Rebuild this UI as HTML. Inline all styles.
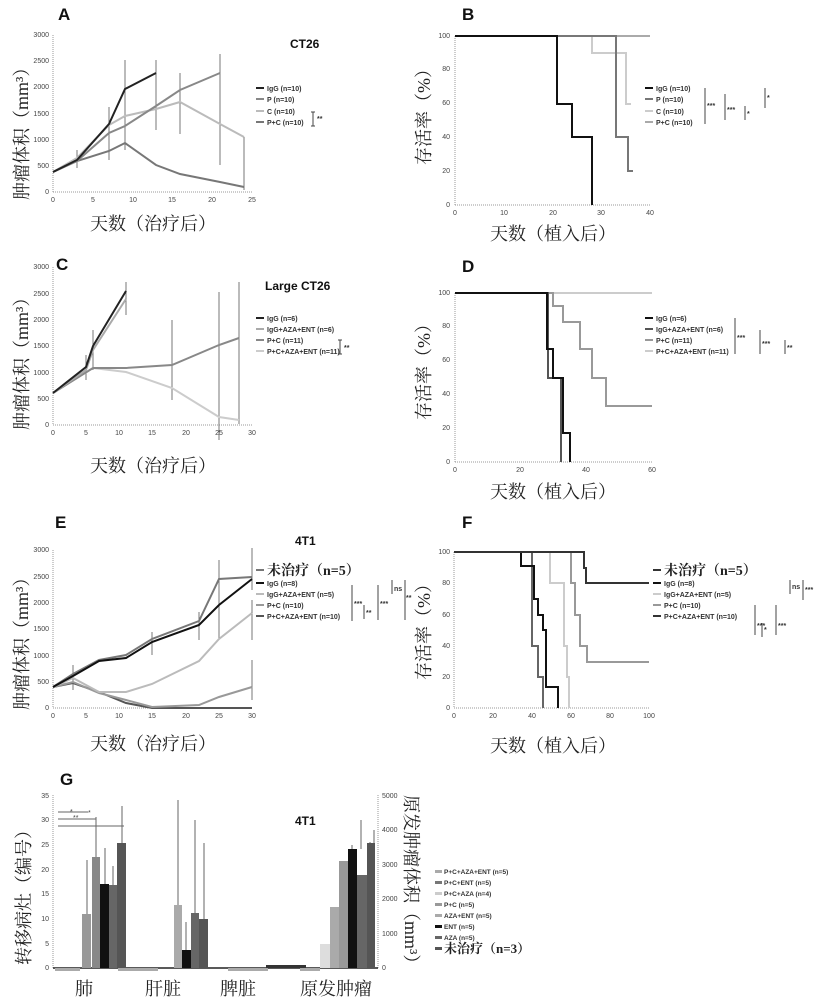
<!DOCTYPE html>
<html><head><meta charset="utf-8"><style>
html,body{margin:0;padding:0;background:#fff;}
svg{display:block;font-family:"Liberation Sans","Noto Sans CJK SC",sans-serif;}
.t{font-size:7px;fill:#444;}
.lg{font-size:7px;font-weight:bold;fill:#333;}
.pl{font-size:17px;font-weight:bold;fill:#111;}
.cn{font-family:"Liberation Serif","Noto Serif CJK SC",serif;font-size:18px;fill:#222;}
.ax{stroke:#999;stroke-width:1;fill:none;stroke-dasharray:1 1;}
.eb{stroke:#777;stroke-width:1;fill:none;}
</style></head><body>
<svg width="816" height="1000" viewBox="0 0 816 1000" xmlns="http://www.w3.org/2000/svg">
<!-- ===== Panel A ===== -->
<text x="58" y="20" class="pl">A</text>
<text x="290" y="48" class="pl" style="font-size:12px">CT26</text>
<line x1="53" y1="35" x2="53" y2="192" class="ax"/><line x1="53" y1="192" x2="252" y2="192" class="ax"/>
<g class="t" text-anchor="end"><text x="49" y="194">0</text><text x="49" y="168">500</text><text x="49" y="142">1000</text><text x="49" y="116">1500</text><text x="49" y="89">2000</text><text x="49" y="63">2500</text><text x="49" y="37">3000</text></g>
<g class="t" text-anchor="middle"><text x="53" y="202">0</text><text x="93" y="202">5</text><text x="133" y="202">10</text><text x="172" y="202">15</text><text x="212" y="202">20</text><text x="252" y="202">25</text></g>
<text class="cn" transform="translate(28,200) rotate(-90)">肿瘤体积（mm³）</text>
<text x="90" y="230" class="cn">天数（治疗后）</text>
<g class="eb"><line x1="125" y1="60" x2="125" y2="150"/><line x1="156" y1="60" x2="156" y2="130"/><line x1="180" y1="73" x2="180" y2="134"/><line x1="220" y1="54" x2="220" y2="165"/><line x1="244" y1="137" x2="244" y2="190"/><line x1="109" y1="107" x2="109" y2="160"/><line x1="77" y1="150" x2="77" y2="168"/></g>
<polyline points="53,172 77,161 109,151 125,143 156,165 180,174 220,182 244,187" fill="none" stroke="#777" stroke-width="2"/>
<polyline points="53,172 77,158 109,125 125,116 156,109 180,102 220,124 244,137" fill="none" stroke="#bbb" stroke-width="2"/>
<polyline points="53,172 77,161 109,133 125,126 156,106 180,90 220,73" fill="none" stroke="#888" stroke-width="2"/>
<polyline points="53,172 77,160 109,124 125,89 156,73" fill="none" stroke="#222" stroke-width="2"/>
<g class="lg"><line x1="256" y1="88" x2="264" y2="88" stroke="#222" stroke-width="2"/><text x="267" y="91">IgG (n=10)</text>
<line x1="256" y1="99" x2="264" y2="99" stroke="#888" stroke-width="2"/><text x="267" y="102">P (n=10)</text>
<line x1="256" y1="111" x2="264" y2="111" stroke="#bbb" stroke-width="2"/><text x="267" y="114">C (n=10)</text>
<line x1="256" y1="122" x2="264" y2="122" stroke="#777" stroke-width="2"/><text x="267" y="125">P+C (n=10)</text>
<path d="M313,112 v14 M311,112 h4 M311,126 h4" stroke="#444" fill="none"/><text x="317" y="121">**</text></g>
<!-- ===== Panel B ===== -->
<text x="462" y="20" class="pl">B</text>
<line x1="455" y1="36" x2="455" y2="205" class="ax"/><line x1="455" y1="205" x2="650" y2="205" class="ax"/>
<g class="t" text-anchor="end"><text x="450" y="207">0</text><text x="450" y="173">20</text><text x="450" y="139">40</text><text x="450" y="105">60</text><text x="450" y="71">80</text><text x="450" y="38">100</text></g>
<g class="t" text-anchor="middle"><text x="455" y="215">0</text><text x="504" y="215">10</text><text x="553" y="215">20</text><text x="601" y="215">30</text><text x="650" y="215">40</text></g>
<text class="cn" transform="translate(430,165) rotate(-90)">存活率（%）</text>
<text x="490" y="240" class="cn">天数（植入后）</text>
<polyline points="455,36 650,36" fill="none" stroke="#aaa" stroke-width="2"/>
<polyline points="455,36 592,36 592,53 626,53 626,104 631,104" fill="none" stroke="#ccc" stroke-width="2"/>
<polyline points="455,36 616,36 616,53 616,137 628,137 628,171 633,171" fill="none" stroke="#777" stroke-width="2"/>
<polyline points="455,36 557,36 557,104 572,104 572,137 592,137 592,205" fill="none" stroke="#111" stroke-width="2"/>
<g class="lg"><line x1="645" y1="88" x2="653" y2="88" stroke="#111" stroke-width="2"/><text x="656" y="91">IgG (n=10)</text>
<line x1="645" y1="99" x2="653" y2="99" stroke="#777" stroke-width="2"/><text x="656" y="102">P (n=10)</text>
<line x1="645" y1="111" x2="653" y2="111" stroke="#ccc" stroke-width="2"/><text x="656" y="114">C (n=10)</text>
<line x1="645" y1="122" x2="653" y2="122" stroke="#aaa" stroke-width="2"/><text x="656" y="125">P+C (n=10)</text>
<path d="M705,88 v36 M725,94 v26 M745,106 v14 M765,88 v20" stroke="#444" fill="none"/>
<text x="707" y="108">***</text><text x="727" y="112">***</text><text x="747" y="116">*</text><text x="767" y="100">*</text></g>
<!-- ===== Panel C ===== -->
<text x="56" y="270" class="pl">C</text>
<text x="265" y="290" class="pl" style="font-size:12px">Large CT26</text>
<line x1="53" y1="267" x2="53" y2="425" class="ax"/><line x1="53" y1="425" x2="252" y2="425" class="ax"/>
<g class="t" text-anchor="end"><text x="49" y="427">0</text><text x="49" y="401">500</text><text x="49" y="375">1000</text><text x="49" y="348">1500</text><text x="49" y="322">2000</text><text x="49" y="296">2500</text><text x="49" y="269">3000</text></g>
<g class="t" text-anchor="middle"><text x="53" y="435">0</text><text x="86" y="435">5</text><text x="119" y="435">10</text><text x="152" y="435">15</text><text x="186" y="435">20</text><text x="219" y="435">25</text><text x="252" y="435">30</text></g>
<text class="cn" transform="translate(28,430) rotate(-90)">肿瘤体积（mm³）</text>
<text x="90" y="472" class="cn">天数（治疗后）</text>
<g class="eb"><line x1="126" y1="282" x2="126" y2="315"/><line x1="93" y1="330" x2="93" y2="370"/><line x1="172" y1="320" x2="172" y2="400"/><line x1="219" y1="292" x2="219" y2="440"/><line x1="239" y1="282" x2="239" y2="424"/><line x1="86" y1="355" x2="86" y2="380"/></g>
<polyline points="53,393 93,368 126,372 172,388 219,417 239,420" fill="none" stroke="#ccc" stroke-width="2"/>
<polyline points="53,393 93,368 126,368 172,365 219,345 239,338" fill="none" stroke="#888" stroke-width="2"/>
<polyline points="53,393 86,370 93,350 126,299" fill="none" stroke="#aaa" stroke-width="2"/>
<polyline points="53,393 86,367 93,346 126,291" fill="none" stroke="#222" stroke-width="2"/>
<g class="lg"><line x1="256" y1="318" x2="264" y2="318" stroke="#222" stroke-width="2"/><text x="267" y="321">IgG (n=6)</text>
<line x1="256" y1="329" x2="264" y2="329" stroke="#aaa" stroke-width="2"/><text x="267" y="332">IgG+AZA+ENT (n=6)</text>
<line x1="256" y1="340" x2="264" y2="340" stroke="#888" stroke-width="2"/><text x="267" y="343">P+C (n=11)</text>
<line x1="256" y1="351" x2="264" y2="351" stroke="#ccc" stroke-width="2"/><text x="267" y="354">P+C+AZA+ENT (n=11)</text>
<path d="M340,340 v14 M338,340 h4 M338,354 h4" stroke="#444" fill="none"/><text x="344" y="350">**</text></g>
<!-- ===== Panel D ===== -->
<text x="462" y="272" class="pl">D</text>
<line x1="455" y1="293" x2="455" y2="462" class="ax"/><line x1="455" y1="462" x2="652" y2="462" class="ax"/>
<g class="t" text-anchor="end"><text x="450" y="464">0</text><text x="450" y="430">20</text><text x="450" y="396">40</text><text x="450" y="362">60</text><text x="450" y="328">80</text><text x="450" y="295">100</text></g>
<g class="t" text-anchor="middle"><text x="455" y="472">0</text><text x="520" y="472">20</text><text x="586" y="472">40</text><text x="652" y="472">60</text></g>
<text class="cn" transform="translate(430,420) rotate(-90)">存活率（%）</text>
<text x="490" y="498" class="cn">天数（植入后）</text>
<polyline points="455,293 652,293" fill="none" stroke="#ccc" stroke-width="2"/>
<polyline points="455,293 553,293 553,306 563,306 563,322 580,322 580,349 592,349 592,378 606,378 606,406 620,406 620,406 652,406" fill="none" stroke="#999" stroke-width="2"/>
<polyline points="455,293 548,293 548,378 561,378 561,462" fill="none" stroke="#555" stroke-width="2"/>
<polyline points="455,293 547,293 547,349 553,349 553,378 563,378 563,433 570,433 570,462" fill="none" stroke="#111" stroke-width="2"/>
<g class="lg"><line x1="645" y1="318" x2="653" y2="318" stroke="#111" stroke-width="2"/><text x="656" y="321">IgG (n=6)</text>
<line x1="645" y1="329" x2="653" y2="329" stroke="#555" stroke-width="2"/><text x="656" y="332">IgG+AZA+ENT (n=6)</text>
<line x1="645" y1="340" x2="653" y2="340" stroke="#999" stroke-width="2"/><text x="656" y="343">P+C (n=11)</text>
<line x1="645" y1="351" x2="653" y2="351" stroke="#ccc" stroke-width="2"/><text x="656" y="354">P+C+AZA+ENT (n=11)</text>
<path d="M735,318 v36 M760,330 v24 M785,340 v14" stroke="#444" fill="none"/>
<text x="737" y="340">***</text><text x="762" y="346">***</text><text x="787" y="350">**</text></g>
<!-- ===== Panel E ===== -->
<text x="55" y="528" class="pl">E</text>
<text x="295" y="545" class="pl" style="font-size:12px">4T1</text>
<line x1="53" y1="550" x2="53" y2="708" class="ax"/><line x1="53" y1="708" x2="252" y2="708" class="ax"/>
<g class="t" text-anchor="end"><text x="49" y="710">0</text><text x="49" y="684">500</text><text x="49" y="658">1000</text><text x="49" y="631">1500</text><text x="49" y="605">2000</text><text x="49" y="579">2500</text><text x="49" y="552">3000</text></g>
<g class="t" text-anchor="middle"><text x="53" y="718">0</text><text x="86" y="718">5</text><text x="119" y="718">10</text><text x="152" y="718">15</text><text x="186" y="718">20</text><text x="219" y="718">25</text><text x="252" y="718">30</text></g>
<text class="cn" transform="translate(28,710) rotate(-90)">肿瘤体积（mm³）</text>
<text x="90" y="750" class="cn">天数（治疗后）</text>
<g class="eb"><line x1="219" y1="560" x2="219" y2="640"/><line x1="252" y1="548" x2="252" y2="590"/><line x1="252" y1="600" x2="252" y2="640"/><line x1="252" y1="660" x2="252" y2="700"/><line x1="152" y1="632" x2="152" y2="655"/><line x1="199" y1="612" x2="199" y2="640"/><line x1="73" y1="665" x2="73" y2="690"/></g>
<polyline points="53,687 73,683 99,692 126,703 152,708 199,708 219,708 252,708" fill="none" stroke="#555" stroke-width="2"/>
<polyline points="53,687 73,682 99,693 126,700 152,707 199,705 219,697 252,687" fill="none" stroke="#999" stroke-width="2"/>
<polyline points="53,687 73,678 99,692 126,692 152,684 199,661 219,639 252,613" fill="none" stroke="#bbb" stroke-width="2"/>
<polyline points="53,687 73,674 99,660 126,655 152,639 199,621 219,579 252,577" fill="none" stroke="#777" stroke-width="2"/>
<polyline points="53,687 73,676 99,661 126,658 152,642 199,625 219,605 252,579" fill="none" stroke="#111" stroke-width="2"/>
<g class="lg"><line x1="256" y1="570" x2="264" y2="570" stroke="#777" stroke-width="2"/><text x="267" y="575" class="cn" style="font-size:14px">未治疗（n=5）</text>
<line x1="256" y1="583" x2="264" y2="583" stroke="#111" stroke-width="2"/><text x="267" y="586">IgG (n=8)</text>
<line x1="256" y1="594" x2="264" y2="594" stroke="#bbb" stroke-width="2"/><text x="267" y="597">IgG+AZA+ENT (n=5)</text>
<line x1="256" y1="605" x2="264" y2="605" stroke="#999" stroke-width="2"/><text x="267" y="608">P+C (n=10)</text>
<line x1="256" y1="616" x2="264" y2="616" stroke="#555" stroke-width="2"/><text x="267" y="619">P+C+AZA+ENT (n=10)</text>
<path d="M352,585 v36 M364,605 v14 M378,585 v35 M392,580 v14 M405,580 v40" stroke="#444" fill="none"/>
<text x="354" y="606">***</text><text x="366" y="615">**</text><text x="380" y="606">***</text><text x="394" y="591">ns</text><text x="406" y="600">**</text></g>
<!-- ===== Panel F ===== -->
<text x="462" y="528" class="pl">F</text>
<line x1="454" y1="552" x2="454" y2="708" class="ax"/><line x1="454" y1="708" x2="649" y2="708" class="ax"/>
<g class="t" text-anchor="end"><text x="450" y="710">0</text><text x="450" y="679">20</text><text x="450" y="648">40</text><text x="450" y="617">60</text><text x="450" y="585">80</text><text x="450" y="554">100</text></g>
<g class="t" text-anchor="middle"><text x="454" y="718">0</text><text x="493" y="718">20</text><text x="532" y="718">40</text><text x="571" y="718">60</text><text x="610" y="718">80</text><text x="649" y="718">100</text></g>
<text class="cn" transform="translate(430,680) rotate(-90)">存活率（%）</text>
<text x="490" y="752" class="cn">天数（植入后）</text>
<polyline points="454,552 571,552 571,583 575,583 575,615 580,615 580,646 587,646 587,662 597,662 597,662 649,662" fill="none" stroke="#999" stroke-width="2"/>
<polyline points="454,552 550,552 550,583 564,583 564,646 567,646 567,677 569,677 569,708" fill="none" stroke="#ccc" stroke-width="2"/>
<polyline points="454,552 532,552 532,646 538,646 538,677 543,677 543,708" fill="none" stroke="#666" stroke-width="2"/>
<polyline points="454,552 521,552 521,566 534,566 534,599 538,599 538,615 543,615 543,630 546,630 546,687 558,687 558,708" fill="none" stroke="#111" stroke-width="2"/>
<polyline points="454,552 584,552 584,568 586,568 586,583 649,583" fill="none" stroke="#333" stroke-width="2"/>
<g class="lg"><line x1="653" y1="570" x2="661" y2="570" stroke="#333" stroke-width="2"/><text x="664" y="575" class="cn" style="font-size:14px">未治疗（n=5）</text>
<line x1="653" y1="583" x2="661" y2="583" stroke="#111" stroke-width="2"/><text x="664" y="586">IgG (n=8)</text>
<line x1="653" y1="594" x2="661" y2="594" stroke="#ccc" stroke-width="2"/><text x="664" y="597">IgG+AZA+ENT (n=5)</text>
<line x1="653" y1="605" x2="661" y2="605" stroke="#999" stroke-width="2"/><text x="664" y="608">P+C (n=10)</text>
<line x1="653" y1="616" x2="661" y2="616" stroke="#333" stroke-width="2"/><text x="664" y="619">P+C+AZA+ENT (n=10)</text>
<path d="M755,605 v30 M762,623 v14 M776,605 v30 M790,580 v14 M803,580 v20" stroke="#444" fill="none"/>
<text x="757" y="628">***</text><text x="764" y="632">*</text><text x="778" y="628">***</text><text x="792" y="589">ns</text><text x="805" y="592">***</text></g>
<!-- ===== Panel G ===== -->
<text x="60" y="785" class="pl">G</text>
<text x="295" y="825" class="pl" style="font-size:12px">4T1</text>
<line x1="53" y1="795" x2="53" y2="968" class="ax"/><line x1="378" y1="795" x2="378" y2="968" class="ax"/>
<line x1="53" y1="968" x2="378" y2="968" stroke="#222" stroke-width="1.5"/>
<g class="t" text-anchor="end"><text x="49" y="970">0</text><text x="49" y="946">5</text><text x="49" y="921">10</text><text x="49" y="896">15</text><text x="49" y="872">20</text><text x="49" y="847">25</text><text x="49" y="822">30</text><text x="49" y="798">35</text></g>
<g class="t"><text x="382" y="970">0</text><text x="382" y="936">1000</text><text x="382" y="901">2000</text><text x="382" y="867">3000</text><text x="382" y="832">4000</text><text x="382" y="798">5000</text></g>
<text class="cn" transform="translate(30,965) rotate(-90)">转移病灶（编号）</text>
<text class="cn" transform="translate(405,795) rotate(90)">原发肿瘤体积（mm³）</text>
<text x="75" y="995" class="cn">肺</text><text x="145" y="995" class="cn">肝脏</text><text x="220" y="995" class="cn">脾脏</text><text x="300" y="995" class="cn">原发肿瘤</text>
<g stroke="#666" stroke-width="1"><line x1="58" y1="812" x2="88" y2="812"/><line x1="58" y1="819" x2="96" y2="819"/><line x1="58" y1="826" x2="124" y2="826"/></g>
<g class="t"><text x="70" y="814">*</text><text x="73" y="820">**</text><text x="88" y="815">*</text></g>
<g stroke="#666" stroke-width="1"><line x1="87" y1="860" x2="87" y2="914"/><line x1="96" y1="817" x2="96" y2="857"/><line x1="105" y1="848" x2="105" y2="884"/><line x1="113" y1="866" x2="113" y2="885"/><line x1="122" y1="806" x2="122" y2="843"/>
<line x1="178" y1="800" x2="178" y2="905"/><line x1="186" y1="922" x2="186" y2="950"/><line x1="195" y1="820" x2="195" y2="913"/><line x1="204" y1="843" x2="204" y2="919"/>
<line x1="334" y1="925" x2="334" y2="944"/><line x1="343" y1="880" x2="343" y2="907"/><line x1="352" y1="845" x2="352" y2="861"/><line x1="361" y1="820" x2="361" y2="849"/><line x1="370" y1="842" x2="370" y2="875"/><line x1="374" y1="830" x2="374" y2="843"/></g>
<rect x="82" y="914" width="9" height="54" fill="#999"/><rect x="92" y="857" width="8" height="111" fill="#888"/><rect x="100" y="884" width="9" height="84" fill="#111"/><rect x="109" y="885" width="8" height="83" fill="#666"/><rect x="117" y="843" width="9" height="125" fill="#555"/>
<rect x="174" y="905" width="8" height="63" fill="#aaa"/><rect x="182" y="950" width="9" height="18" fill="#111"/><rect x="191" y="913" width="8" height="55" fill="#666"/><rect x="199" y="919" width="9" height="49" fill="#555"/>
<rect x="266" y="965" width="40" height="3" fill="#333"/>
<rect x="320" y="944" width="10" height="24" fill="#ddd"/><rect x="330" y="907" width="9" height="61" fill="#aaa"/><rect x="339" y="861" width="9" height="107" fill="#999"/><rect x="348" y="849" width="9" height="119" fill="#111"/><rect x="357" y="875" width="10" height="93" fill="#666"/><rect x="367" y="843" width="8" height="125" fill="#555"/>
<rect x="55" y="968" width="25" height="3" fill="#aaa"/><rect x="118" y="968" width="40" height="3" fill="#aaa"/><rect x="228" y="968" width="40" height="3" fill="#aaa"/><rect x="300" y="968" width="20" height="3" fill="#aaa"/>
<g class="lg" style="font-size:6.5px">
<rect x="435" y="870" width="7" height="3" fill="#aaa"/><text x="444" y="874">P+C+AZA+ENT (n=5)</text>
<rect x="435" y="881" width="7" height="3" fill="#777"/><text x="444" y="885">P+C+ENT (n=5)</text>
<rect x="435" y="892" width="7" height="3" fill="#ccc"/><text x="444" y="896">P+C+AZA (n=4)</text>
<rect x="435" y="903" width="7" height="3" fill="#999"/><text x="444" y="907">P+C (n=5)</text>
<rect x="435" y="914" width="7" height="3" fill="#aaa"/><text x="444" y="918">AZA+ENT (n=5)</text>
<rect x="435" y="925" width="7" height="3" fill="#111"/><text x="444" y="929">ENT (n=5)</text>
<rect x="435" y="936" width="7" height="3" fill="#666"/><text x="444" y="940">AZA (n=5)</text>
<rect x="435" y="947" width="7" height="3" fill="#555"/><text x="444" y="953" class="cn" style="font-size:13px">未治疗（n=3）</text></g>
</svg>
</body></html>
